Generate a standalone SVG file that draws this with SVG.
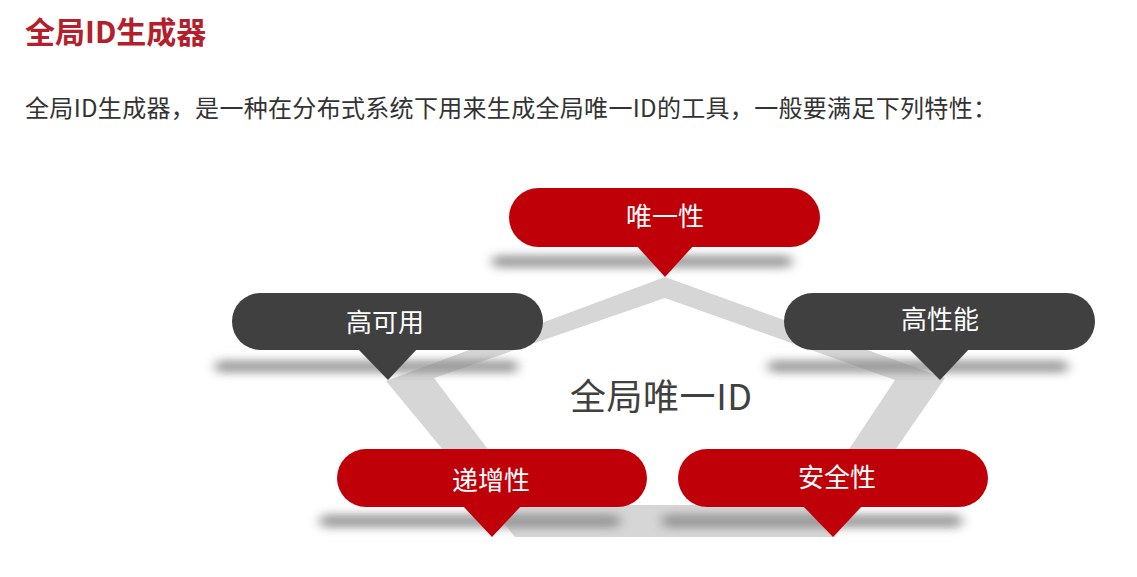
<svg xmlns="http://www.w3.org/2000/svg" width="1137" height="577" viewBox="0 0 1137 577">
  <defs>
    <filter id="blur" x="-20%" y="-300%" width="140%" height="700%">
      <feGaussianBlur stdDeviation="6 4"/>
    </filter>
    <style>
      .cjk { font-family: "Noto Sans CJK SC", "Noto Sans", sans-serif; }
      .title { font-size: 30px; font-weight: bold; fill: #b3202b; }
      .sub { font-size: 24px; fill: #333333; }
      .center { font-size: 36px; fill: #404040; }
      .label { font-size: 26px; fill: #ffffff; text-anchor: middle; }
      .red { fill: #c00008; }
      .dark { fill: #404040; }
      .shadow { fill: #8c8c8c; opacity: 0.8; filter: url(#blur); }
      .band { fill: #d6d6d6; fill-rule: evenodd; }
    </style>
  </defs>
  <rect width="1137" height="577" fill="#ffffff"/>

  <text class="cjk title" x="25" y="43">全局ID生成器</text>
  <text class="cjk sub" x="25" y="117" textLength="972" lengthAdjust="spacing">全局ID生成器，是一种在分布式系统下用来生成全局唯一ID的工具，一般要满足下列特性：</text>

  <g id="connectors">
    <path class="band" d="M665,277 L945,378 L835,537 L515,537 L386,381 Z M665,298 L434,378 L530,505 L812,505 L895,380 Z"/>
  </g>

  <text class="cjk center" x="570" y="410" textLength="182" lengthAdjust="spacing">全局唯一ID</text>

  <g id="node-unique">
    <rect class="shadow" x="492" y="255" width="300" height="13" rx="6"/>
    <rect class="red" x="509" y="188" width="311" height="59" rx="29.5"/>
    <polygon class="red" points="636,245 694,245 665,277"/>
    <text class="cjk label" x="665" y="226">唯一性</text>
  </g>

  <g id="node-available">
    <rect class="shadow" x="215" y="360" width="303" height="13" rx="6"/>
    <rect class="dark" x="232" y="293" width="311" height="57" rx="28.5"/>
    <polygon class="dark" points="357,348 418,348 388,380"/>
    <text class="cjk label" x="385" y="332">高可用</text>
  </g>

  <g id="node-performance">
    <rect class="shadow" x="768" y="360" width="300" height="13" rx="6"/>
    <rect class="dark" x="784" y="293" width="311" height="57" rx="28.5"/>
    <polygon class="dark" points="908,348 970,348 940,380"/>
    <text class="cjk label" x="940" y="329">高性能</text>
  </g>

  <g id="node-increasing">
    <rect class="shadow" x="320" y="514" width="300" height="14" rx="6"/>
    <rect class="red" x="337" y="449" width="310" height="58" rx="29"/>
    <polygon class="red" points="462,505 522,505 492,537"/>
    <text class="cjk label" x="491" y="490">递增性</text>
  </g>

  <g id="node-security">
    <rect class="shadow" x="662" y="514" width="300" height="14" rx="6"/>
    <rect class="red" x="678" y="449" width="310" height="58" rx="29"/>
    <polygon class="red" points="802,505 863,505 833,537"/>
    <text class="cjk label" x="837" y="487">安全性</text>
  </g>
</svg>
